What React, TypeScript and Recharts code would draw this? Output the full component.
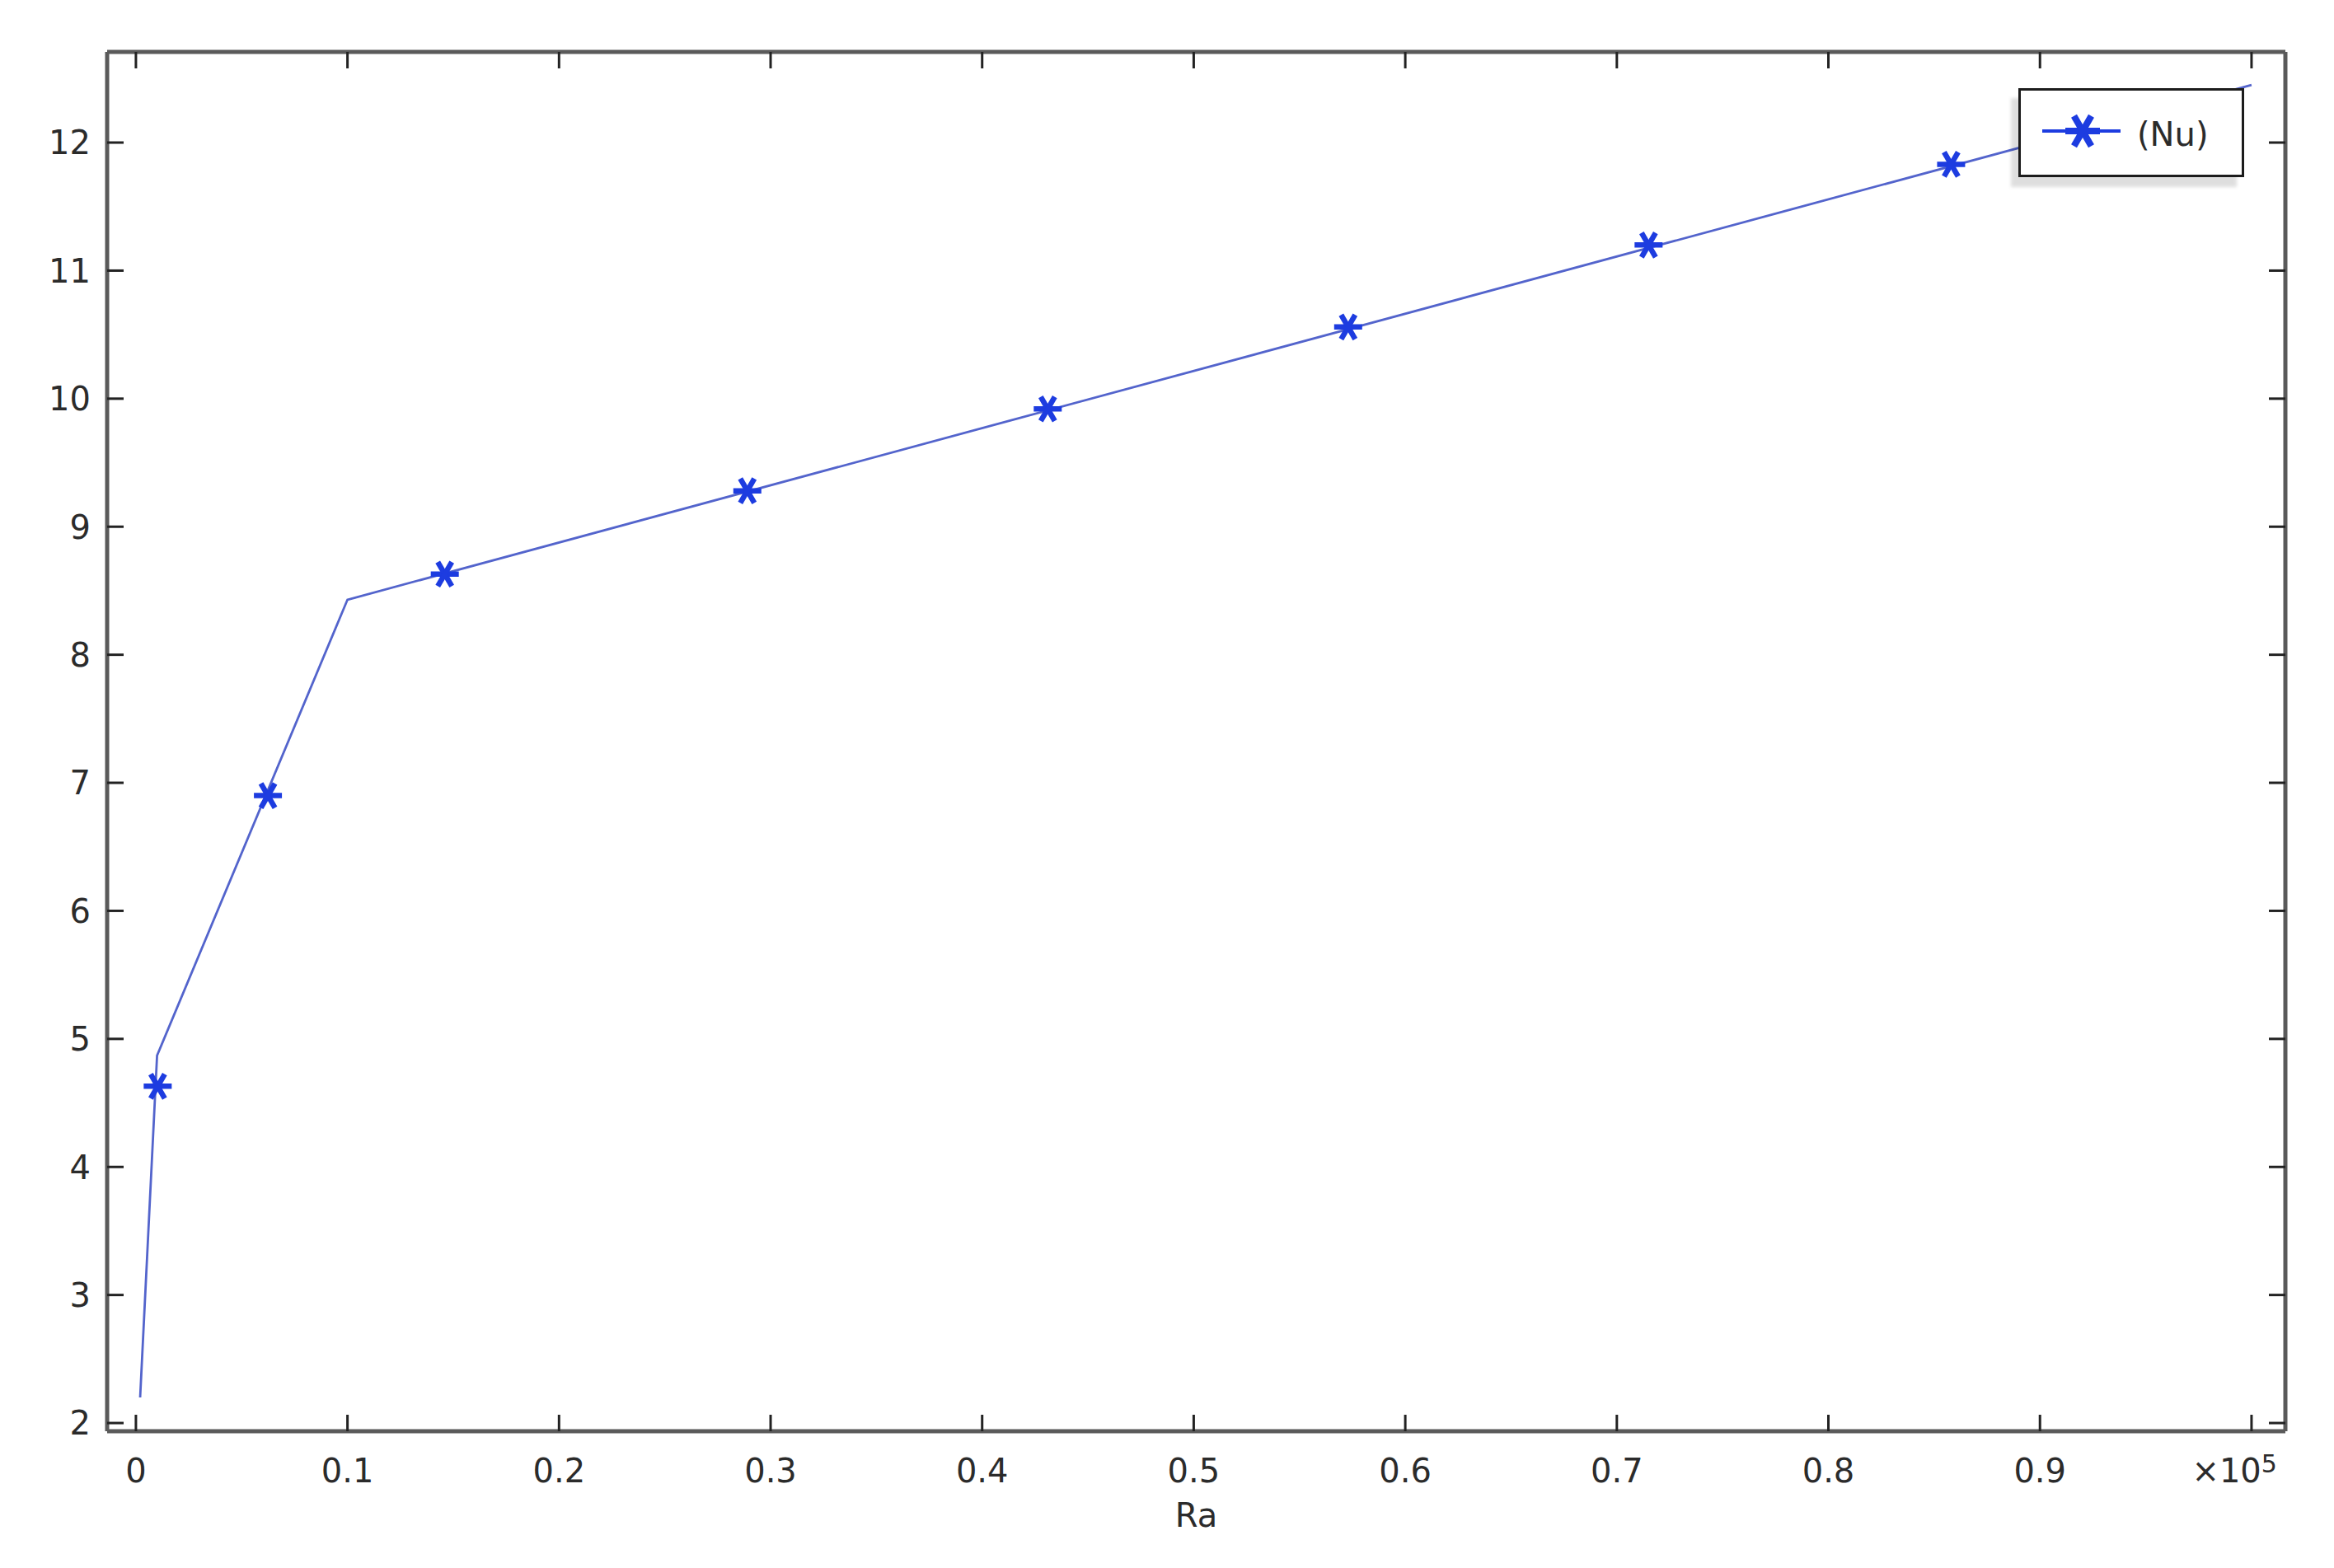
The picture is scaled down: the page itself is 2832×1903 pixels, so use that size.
import React from 'react';
import { ComposedChart, Line, Scatter, XAxis, YAxis, Legend } from 'recharts';

// Nusselt number vs Rayleigh number (Ra in units of 1e5)
const curveRa = [0.002, 0.01, 0.1, 1.0];
const curveNu = [2.2, 4.87, 8.43, 12.45];

// marker positions as drawn on the curve
const markerRa = [0.0103, 0.0624, 0.146, 0.289, 0.431, 0.573, 0.715, 0.858];
const markerNu = [4.63, 6.9, 8.63, 9.28, 9.92, 10.56, 11.2, 11.83];

const xTicks = [0, 0.1, 0.2, 0.3, 0.4, 0.5, 0.6, 0.7, 0.8, 0.9, 1.0];
const yTicks = [2, 3, 4, 5, 6, 7, 8, 9, 10, 11, 12];
const xDomain = [-0.0136, 1.016];
const yDomain = [1.936, 12.708];

const seriesName = '(Nu)';
const xTitle = 'Ra';
const xExponent = '5';

const curve = curveRa.map((ra, i) => ({ ra, nu: curveNu[i] }));
const markers = markerRa.map((ra, i) => ({ ra, nu: markerNu[i] }));

const FONT = 'DejaVu Sans';
const FS = 40;
const TEXT = '#2b2b2b';
const FRAME = '#5a5a5a';
const TICK = '#222';
const LINE = '#5364cc';
const MARK = '#1d3ce0';
const X_MARGIN = 33;
const Y_MARGIN = 20;
const TICK_LEN = 20;

const Asterisk = ({ cx, cy, r, w = 6 }: { cx: number; cy: number; r: number; w?: number }) => {
  const arms = [0, 60, 120].map((deg) => {
    const a = (deg * Math.PI) / 180;
    const dx = r * Math.cos(a);
    const dy = r * Math.sin(a);
    return (
      <line key={deg} x1={cx - dx} y1={cy - dy} x2={cx + dx} y2={cy + dy}
        stroke={MARK} strokeWidth={w} strokeLinecap="butt" />
    );
  });
  return <g>{arms}</g>;
};

const XTick = (props: any) => {
  const { x, y, payload } = props;
  const axisY = y - X_MARGIN;
  const v = payload.value;
  const isLast = v === xTicks[xTicks.length - 1];
  return (
    <g>
      <line x1={x} x2={x} y1={axisY} y2={axisY - TICK_LEN} stroke={TICK} strokeWidth={3} />
      {isLast ? (
        <text x={x + 31} y={y} dy="0.73em" textAnchor="end" fill={TEXT} fontFamily={FONT} fontSize={FS}>
          ×10<tspan dy="-0.42em" fontSize={30}>{xExponent}</tspan>
        </text>
      ) : (
        <text x={x} y={y} dy="0.73em" textAnchor="middle" fill={TEXT} fontFamily={FONT} fontSize={FS}>
          {v === 0 ? '0' : v.toFixed(1)}
        </text>
      )}
    </g>
  );
};

const YTick = (props: any) => {
  const { x, y, payload } = props;
  const axisX = x + Y_MARGIN;
  return (
    <g>
      <line x1={axisX} x2={axisX + TICK_LEN} y1={y} y2={y} stroke={TICK} strokeWidth={3} />
      <text x={x} y={y} dy="0.36em" textAnchor="end" fill={TEXT} fontFamily={FONT} fontSize={FS}>
        {payload.value}
      </text>
    </g>
  );
};

const LegendBox = () => (
  <div
    style={{
      width: 274,
      height: 108,
      boxSizing: 'border-box',
      border: '3px solid #1c1c1c',
      background: '#fff',
      boxShadow: '-9px 12px 4px rgba(0,0,0,0.13)',
      position: 'relative',
    }}
  >
    <svg width={268} height={102} style={{ position: 'absolute', left: 0, top: 0 }}>
      <line x1={26} x2={121} y1={49} y2={49} stroke={MARK} strokeWidth={4} />
      <Asterisk cx={75} cy={49} r={21} w={8} />
      <text x={141} y={53} dy="0.36em" fill={TEXT} fontFamily={FONT} fontSize={FS}>
        {seriesName}
      </text>
    </svg>
  </div>
);

export default function App() {
  return (
    <ComposedChart width={2816} height={1880} margin={{ top: 55, right: 51, left: 0, bottom: 0 }}>
      <XAxis
        dataKey="ra"
        type="number"
        domain={xDomain}
        allowDataOverflow
        ticks={xTicks}
        height={151}
        tickSize={0}
        tickMargin={X_MARGIN}
        tickLine={false}
        axisLine={{ stroke: FRAME, strokeWidth: 5 }}
        tick={<XTick />}
        interval={0}
        label={{ value: xTitle, position: 'insideTop', offset: 88, fill: TEXT, fontSize: FS, fontFamily: FONT }}
      />
      <XAxis
        xAxisId="top"
        orientation="top"
        mirror
        dataKey="ra"
        type="number"
        domain={xDomain}
        allowDataOverflow
        ticks={xTicks}
        interval={0}
        tickSize={TICK_LEN}
        tickLine={{ stroke: TICK, strokeWidth: 3 }}
        axisLine={{ stroke: FRAME, strokeWidth: 5 }}
        tickFormatter={() => ''}
      />
      <YAxis
        type="number"
        domain={yDomain}
        allowDataOverflow
        ticks={yTicks}
        interval={0}
        width={122}
        tickSize={0}
        tickMargin={Y_MARGIN}
        tickLine={false}
        axisLine={{ stroke: FRAME, strokeWidth: 5 }}
        tick={<YTick />}
      />
      <YAxis
        yAxisId="right"
        orientation="right"
        mirror
        type="number"
        domain={yDomain}
        allowDataOverflow
        ticks={yTicks}
        interval={0}
        tickSize={TICK_LEN}
        tickLine={{ stroke: TICK, strokeWidth: 3 }}
        axisLine={{ stroke: FRAME, strokeWidth: 5 }}
        tickFormatter={() => ''}
      />
      <Line
        data={curve}
        dataKey="nu"
        type="linear"
        stroke={LINE}
        strokeWidth={2.8}
        dot={false}
        activeDot={false}
        isAnimationActive={false}
      />
      <Scatter
        data={markers}
        dataKey="nu"
        shape={(p: any) => <Asterisk cx={p.cx} cy={p.cy} r={17} w={6.5} />}
        isAnimationActive={false}
      />
      <Legend
        layout="vertical"
        align="center"
        verticalAlign="middle"
        content={() => <LegendBox />}
        wrapperStyle={{ left: 2441, top: 99, width: 274, height: 108 }}
      />
    </ComposedChart>
  );
}
